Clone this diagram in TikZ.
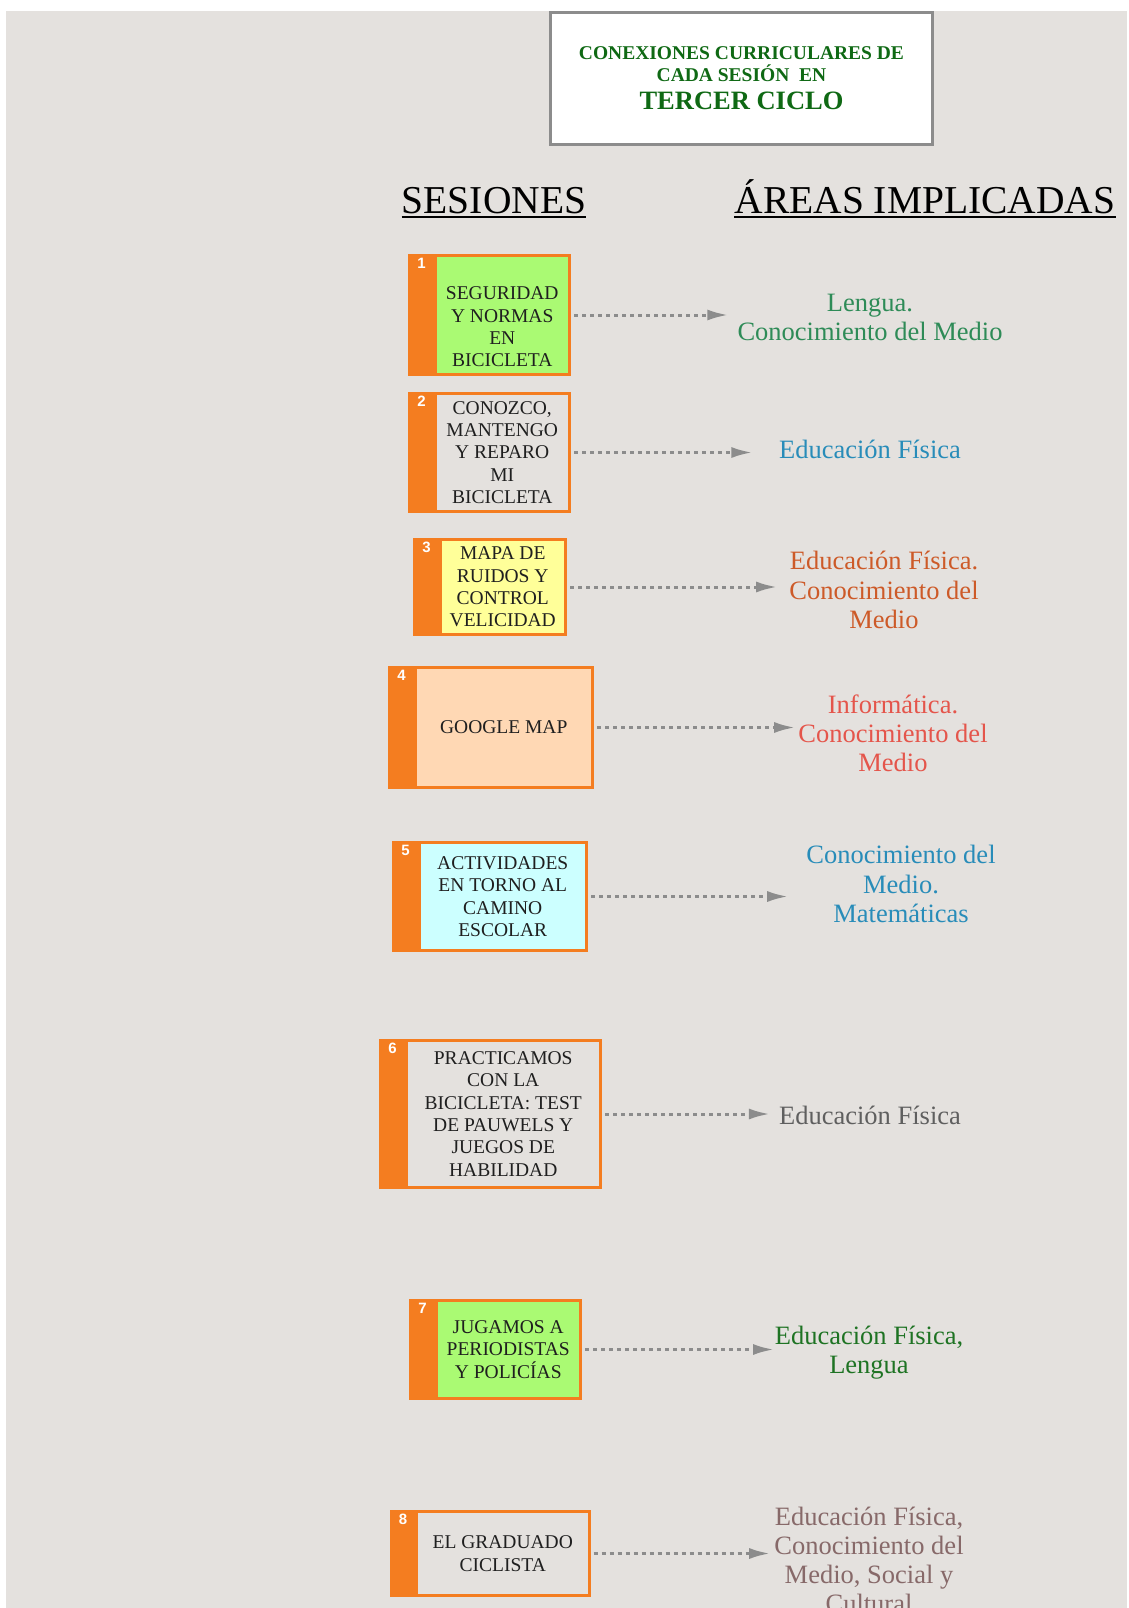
\documentclass[tikz,border=0pt]{standalone}
\usepackage{fontspec}
\setmainfont{Liberation Serif}
\newfontfamily\numfont{Liberation Sans}
\usetikzlibrary{arrows.meta,positioning}

\definecolor{fondo}{RGB}{228,225,222}
\definecolor{naranja}{RGB}{244,125,32}
\definecolor{verde}{RGB}{170,250,115}
\definecolor{amarillo}{RGB}{255,255,153}
\definecolor{melocoton}{RGB}{255,216,180}
\definecolor{celeste}{RGB}{204,255,255}
\definecolor{flecha}{RGB}{140,140,140}
\definecolor{titulo}{RGB}{15,105,20}
\definecolor{areaverde}{RGB}{46,139,87}
\definecolor{areaazul}{RGB}{40,140,185}
\definecolor{areanaranja}{RGB}{205,90,40}
\definecolor{arearoja}{RGB}{228,85,75}
\definecolor{areagris}{RGB}{95,95,95}
\definecolor{areaoscuro}{RGB}{30,115,35}
\definecolor{areamalva}{RGB}{135,105,105}

% barra naranja con el numero de la sesion
\newcommand{\barra}[2]{%
  \fill[naranja] ([xshift=-27pt,yshift=1.5pt]#1.north west) rectangle ([yshift=-1.5pt]#1.south west);
  \node[num] (n#2) at ([xshift=-13.5pt,yshift=-8pt]#1.north west) {#2};}

\begin{document}
\begin{tikzpicture}[x=1pt,y=-1pt,
    txt/.style={align=center, text=black!88, font=\fontsize{19.5}{22.3}\selectfont},
    ses/.style={txt, draw=naranja, line width=3pt, outer sep=0pt, inner sep=2pt},
    area/.style={inner sep=0pt, align=center, font=\fontsize{26.5}{29.2}\selectfont},
    num/.style={inner sep=0pt, text=white, font=\numfont\bfseries\fontsize{15}{15}\selectfont},
    head/.style={inner sep=0pt, font=\fontsize{39.5}{40}\selectfont},
    link/.style={draw=flecha, line width=3pt, dash pattern=on 4.2pt off 3.8pt,
      -{Latex[length=21pt,width=11pt]}, shorten <=4.5pt}]
  \useasboundingbox (0,0) rectangle (1128,1608);
  \fill[white] (0,0) rectangle (1128,1608);
  \fill[fondo] (6,11) rectangle (1127,1608);

  % titulo
  \node[draw=gray!90, line width=3pt, fill=white, minimum width=382pt, minimum height=132pt,
    align=center, text=titulo, font=\bfseries\fontsize{19.5}{22}\selectfont] (t0) at (741.5,78.5)
    {CONEXIONES CURRICULARES DE\\CADA SESIÓN~ EN\\[6pt]{\fontsize{26.5}{22}\selectfont TERCER CICLO}};

  \node[head, anchor=base] (h1) at (494,213) {SESIONES};
  \node[head, anchor=base] (h2) at (925,213) {ÁREAS IMPLICADAS};
  \draw[line width=2pt] ([yshift=-4pt]h1.base west) -- ([yshift=-4pt]h1.base east);
  \draw[line width=2pt] ([yshift=-4pt]h2.base west) -- ([yshift=-4pt]h2.base east);

  % sesiones
  \node[ses, fill=verde, minimum width=134.5pt, minimum height=119pt] (s1) at (502.25,315) {};
  \node[txt, inner sep=0pt] (t1) at ([yshift=-12pt]s1.center) {SEGURIDAD\\Y NORMAS\\EN\\BICICLETA};
  \node[ses, fill=fondo, minimum width=134.5pt, minimum height=118pt] (s2) at (502.25,452.5)
    {CONOZCO,\\MANTENGO\\Y REPARO\\MI\\BICICLETA};
  \node[ses, fill=amarillo, minimum width=125.5pt, minimum height=95pt] (s3) at (502.75,587)
    {MAPA DE\\RUIDOS Y\\CONTROL\\VELICIDAD};
  \node[ses, fill=melocoton, minimum width=177.5pt, minimum height=120pt] (s4) at (503.75,727.5)
    {GOOGLE MAP};
  \node[ses, fill=celeste, minimum width=167.5pt, minimum height=108pt] (s5) at (502.75,896.5)
    {ACTIVIDADES\\EN TORNO AL\\CAMINO\\ESCOLAR};
  \node[ses, fill=fondo, minimum width=194.5pt, minimum height=147pt] (s6) at (503.25,1114)
    {PRACTICAMOS\\CON LA\\BICICLETA: TEST\\DE PAUWELS Y\\JUEGOS DE\\HABILIDAD};
  \node[ses, fill=verde, minimum width=144.5pt, minimum height=98pt] (s7) at (508.25,1349.5)
    {JUGAMOS A\\PERIODISTAS\\Y POLICÍAS};
  \node[ses, fill=fondo, minimum width=172.5pt, minimum height=84pt] (s8) at (502.75,1553.5)
    {EL GRADUADO\\CICLISTA};

  \barra{s1}{1} \barra{s2}{2} \barra{s3}{3} \barra{s4}{4}
  \barra{s5}{5} \barra{s6}{6} \barra{s7}{7} \barra{s8}{8}

  % areas
  \node[area, text=areaverde] (a1) at (870,317.5) {Lengua.\\Conocimiento del Medio};
  \node[area, text=areaazul] (a2) at (870,449) {Educación Física};
  \node[area, text=areanaranja] (a3) at (884,590) {Educación Física.\\Conocimiento del\\Medio};
  \node[area, text=arearoja] (a4) at (893,733) {Informática.\\Conocimiento del\\Medio};
  \node[area, text=areaazul] (a5) at (901,884) {Conocimiento del\\Medio.\\Matemáticas};
  \node[area, text=areagris] (a6) at (870,1115) {Educación Física};
  \node[area, text=areaoscuro] (a7) at (869,1353) {Educación Física,\\Lengua};
  \node[area, text=areamalva] (a8) at (869,1560) {Educación Física,\\Conocimiento del\\Medio, Social y\\Cultural};

  \draw[link, shorten >=9pt] (s1.east) -- (s1.east -| a1.west);
  \draw[link, shorten >=26.5pt] (s2.east) -- (s2.east -| a2.west);
  \draw[link, shorten >=12pt] (s3.east) -- (s3.east -| a3.west);
  \draw[link, shorten >=3pt] (s4.east) -- (s4.east -| a4.west);
  \draw[link, shorten >=18pt] (s5.east) -- (s5.east -| a5.west);
  \draw[link, shorten >=9pt] (s6.east) -- (s6.east -| a6.west);
  \draw[link, shorten >=0.5pt] (s7.east) -- (s7.east -| a7.west);
  \draw[link, shorten >=4pt] (s8.east) -- (s8.east -| a8.west);
\end{tikzpicture}
\end{document}
